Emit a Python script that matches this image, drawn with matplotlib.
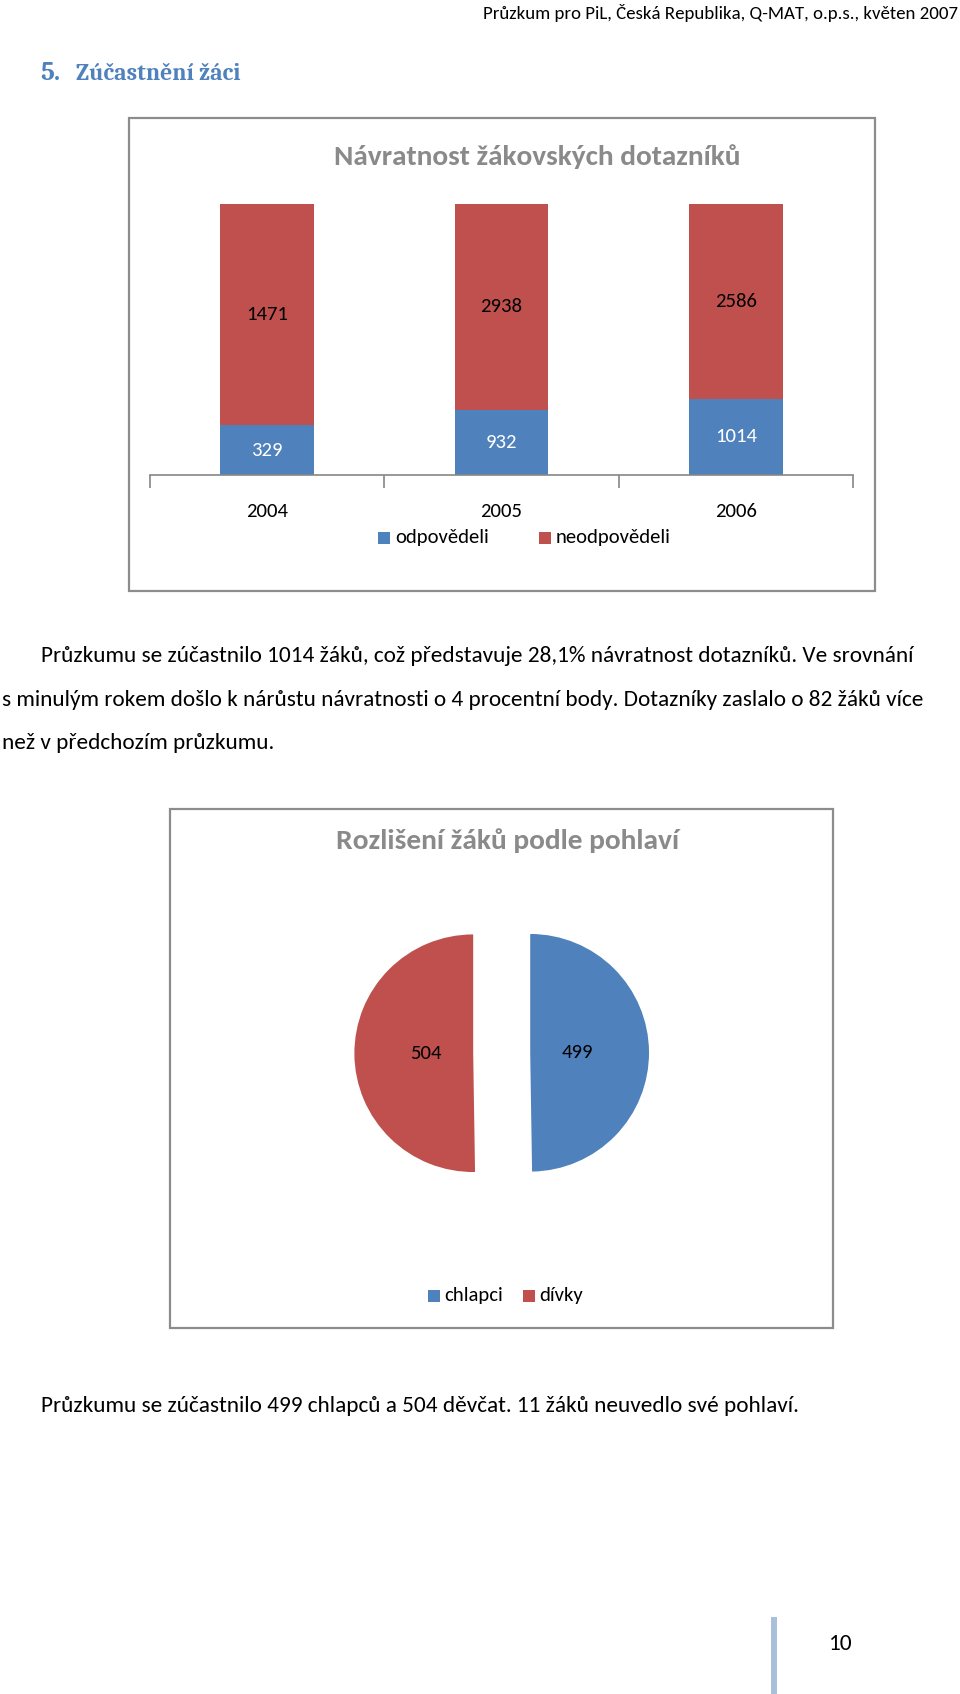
import matplotlib
matplotlib.use('Agg')
import matplotlib.pyplot as plt
from matplotlib.patches import Rectangle
from matplotlib import font_manager

# data
years = ['2004', '2005', '2006']
answered = [329, 932, 1014]        # odpověděli
not_answered = [1471, 2938, 2586]  # neodpověděli
bar_series = ['odpovědeli', 'neodpovědeli']

pie_labels = ['chlapci', 'dívky']
pie_values = [499, 504]

header = 'Průzkum pro PiL, Česká Republika, Q-MAT, o.p.s., květen 2007'
heading_num = '5.'
heading = 'Zúčastnění žáci'
title1 = 'Návratnost žákovských dotazníků'
title2 = 'Rozlišení žáků podle pohlaví'
para1 = ['Průzkumu se zúčastnilo 1014 žáků, což představuje 28,1% návratnost dotazníků. Ve srovnání',
         's minulým rokem došlo k nárůstu návratnosti o 4 procentní body. Dotazníky zaslalo o 82 žáků více',
         'než v předchozím průzkumu.']
para2 = 'Průzkumu se zúčastnilo 499 chlapců a 504 děvčat. 11 žáků neuvedlo své pohlaví.'
page_no = '10'

BLUE = '#4F81BD'
RED = '#C0504D'
GRAY = '#8A8A8A'


def pick_font(names):
    for n in names:
        try:
            font_manager.findfont(font_manager.FontProperties(family=n), fallback_to_default=False)
            return n
        except Exception:
            pass
    return 'DejaVu Sans'


SANS = pick_font(['Carlito', 'Liberation Sans Narrow', 'Open Sans', 'DejaVu Sans'])
SERIF = pick_font(['Caladea', 'Liberation Serif', 'DejaVu Serif'])
plt.rcParams['font.family'] = [SANS, 'DejaVu Sans']

W, H = 960, 1694
fig = plt.figure(figsize=(W / 100, H / 100), dpi=100)
renderer = fig.canvas.get_renderer()

# page overlay in pixel coordinates
page = fig.add_axes([0, 0, 1, 1])
page.set_xlim(0, W)
page.set_ylim(H, 0)
page.axis('off')


def fit_text(x, y, s, width, **kw):
    # size the text so that it spans the given pixel width
    t = page.text(x, y, s, fontsize=20, **kw)
    w = t.get_window_extent(renderer).width
    t.set_fontsize(20 * width / w)
    return t


fit_text(958, 13, header, 477, ha='right', va='center')
fit_text(40, 74, heading_num, 20, ha='left', va='center', color=BLUE, fontweight='bold', family=SERIF)
fit_text(76, 74, heading, 164, ha='left', va='center', color=BLUE, fontweight='bold', family=SERIF)

# chart boxes
page.add_patch(Rectangle((128.5, 117.7), 746.5, 473, fill=False, edgecolor='#8C8C8C', lw=1.6))
page.add_patch(Rectangle((169.5, 809), 663, 519, fill=False, edgecolor='#8C8C8C', lw=1.6))

fit_text(537, 157, title1, 408, ha='center', va='center', color=GRAY, fontweight='bold')
fit_text(508, 841, title2, 345, ha='center', va='center', color=GRAY, fontweight='bold')

# paragraph text
t = fit_text(2, 700, para1[1], 921, ha='left', va='center')
fs = t.get_fontsize()
page.text(41, 656, para1[0], fontsize=fs, ha='left', va='center')
page.text(2, 743, para1[2], fontsize=fs, ha='left', va='center')
page.text(41, 1406, para2, fontsize=fs, ha='left', va='center')
page.text(840, 1644, page_no, fontsize=fs, ha='center', va='center')
page.add_patch(Rectangle((771, 1617), 6, 77, color='#A9BFDA', lw=0))

# bar chart (100% stacked)
ax = fig.add_axes([150 / W, 1 - 475 / H, 703 / W, 271 / H])
ax.patch.set_alpha(0)
totals = [a + b for a, b in zip(answered, not_answered)]
pa = [a / t for a, t in zip(answered, totals)]
pn = [b / t for b, t in zip(not_answered, totals)]
xs = list(range(len(years)))
b1 = ax.bar(xs, pa, width=0.4, color=BLUE)
b2 = ax.bar(xs, pn, width=0.4, bottom=pa, color=RED)
ax.set_xlim(-0.5, len(years) - 0.5)
ax.set_ylim(0, 1)
lab_fs = 20 * 42 / page.text(0, 0, '1471', fontsize=20).get_window_extent(renderer).width
page.texts[-1].remove()
ax.bar_label(b1, labels=[str(v) for v in answered], label_type='center', color='white', fontsize=lab_fs)
ax.bar_label(b2, labels=[str(v) for v in not_answered], label_type='center', color='black', fontsize=lab_fs)
for s in ['top', 'left', 'right']:
    ax.spines[s].set_visible(False)
ax.spines['bottom'].set_color('#868686')
ax.spines['bottom'].set_linewidth(1.2)
ax.set_yticks([])
ax.set_xticks(xs)
ax.set_xticklabels(years, fontsize=lab_fs)
ax.tick_params(axis='x', length=0, pad=20)
ax.set_xticks([x - 0.5 for x in range(len(years) + 1)], minor=True)
ax.tick_params(axis='x', which='minor', length=9, color='#868686', width=1.2)

# legend for bars
for cx, col, name in [(378, BLUE, bar_series[0]), (539, RED, bar_series[1])]:
    page.add_patch(Rectangle((cx, 532), 12, 12, color=col, lw=0))
    page.text(cx + 17, 538, name, fontsize=lab_fs, ha='left', va='center')

# pie chart
r_px = 118.8
ax2 = fig.add_axes([(501.7 - 1.5 * r_px) / W, 1 - (1053 + 1.5 * r_px) / H, 3 * r_px / W, 3 * r_px / H])
ax2.pie(pie_values, colors=[BLUE, RED], startangle=90, counterclock=False,
        explode=[0.24, 0.24], pctdistance=0.4,
        autopct=lambda p: f'{round(p * sum(pie_values) / 100)}',
        textprops={'fontsize': lab_fs, 'color': 'black'})
ax2.set_xlim(-1.5, 1.5)
ax2.set_ylim(-1.5, 1.5)
ax2.set_aspect('equal')

for cx, col, name in [(428, BLUE, pie_labels[0]), (523, RED, pie_labels[1])]:
    page.add_patch(Rectangle((cx, 1290), 12, 12, color=col, lw=0))
    page.text(cx + 16, 1296, name, fontsize=lab_fs, ha='left', va='center')

fig.savefig('out.png', dpi=100)
